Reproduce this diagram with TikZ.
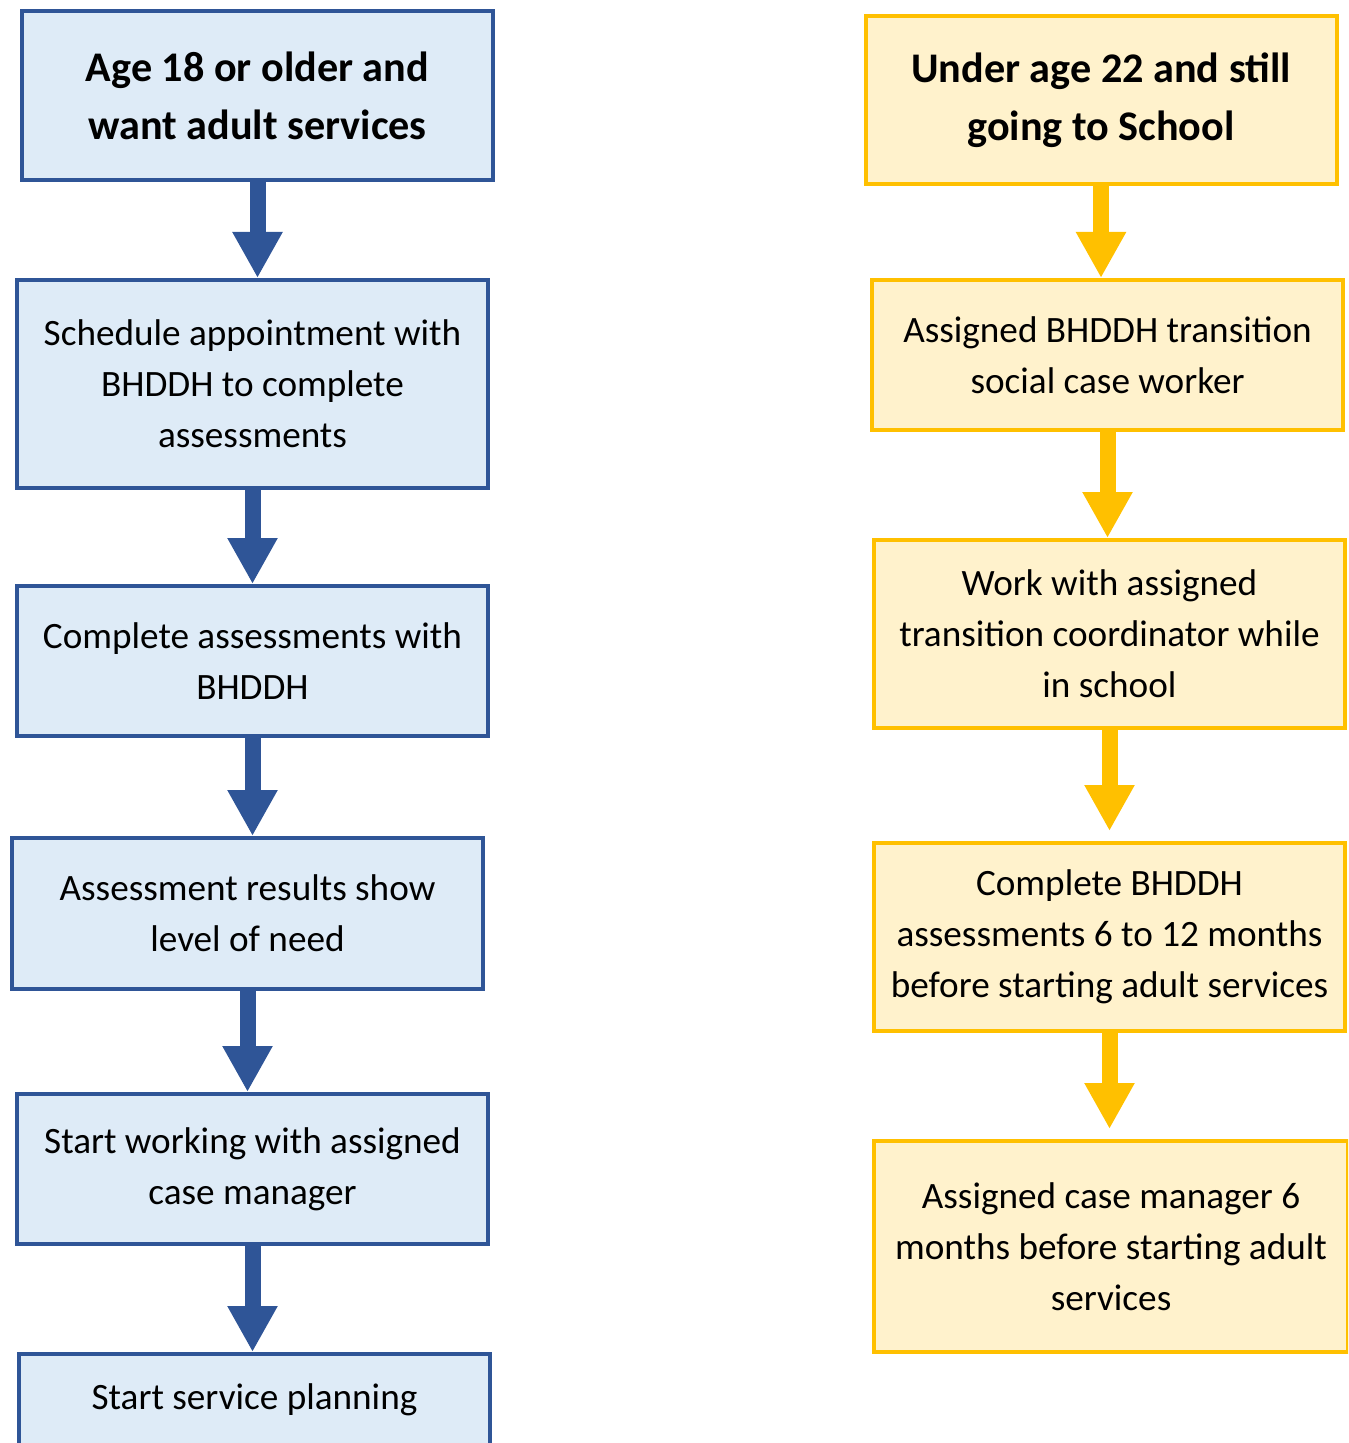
\documentclass[tikz,border=0pt]{standalone}
\usepackage{fontspec}
\setmainfont{Carlito}
\usepackage{tikz}
\usetikzlibrary{arrows.meta,positioning,calc}

\definecolor{adultline}{HTML}{2F5597}
\definecolor{adultfill}{HTML}{DEEBF7}
\definecolor{schoolline}{HTML}{FFC000}
\definecolor{schoolfill}{HTML}{FFF2CC}

\tikzset{
	stepbox/.style={rectangle, line width=2pt, align=center, inner sep=0pt,
		minimum width=235.5pt, font=\fontsize{18.6}{25.5}\selectfont},
	adultbox/.style={stepbox, draw=adultline, fill=adultfill},
	schoolbox/.style={stepbox, draw=schoolline, fill=schoolfill},
	headbox/.style={font=\fontsize{21.1}{29}\selectfont\bfseries},
	fatarrow/.style={line width=8pt, -{Triangle[width=23.5pt,length=23pt]}},
}

\begin{document}
\begin{tikzpicture}[x=0.5pt,y=-0.5pt]
	\useasboundingbox (0,0) rectangle (1348,1443);
	\clip (0,0) rectangle (1348,1443);
	% left column
	\node [adultbox,headbox,minimum height=84.5pt] (L1) at (257.5,95.5) {Age 18 or older and\\want adult services};
	\node [adultbox,minimum height=104pt] (L2) at (252.5,384) {Schedule appointment with\\BHDDH to complete\\assessments};
	\node [adultbox,minimum height=75pt] (L3) at (252.5,661) {Complete assessments with\\BHDDH};
	\node [adultbox,minimum height=75.5pt] (L4) at (247.5,913.5) {Assessment results show\\level of need};
	\node [adultbox,minimum height=75pt] (L5) at (252.5,1169) {Start working with assigned\\case manager};
	\node [adultbox,minimum height=46pt] (L6) at (254.5,1400) {Start service planning};
	% right column
	\node [schoolbox,headbox,minimum height=84pt] (R1) at (1101,100) {Under age 22 and still\\going to School};
	\node [schoolbox,minimum height=75pt] (R2) at (1107.5,355) {Assigned BHDDH transition\\social case worker};
	\node [schoolbox,minimum height=94pt] (R3) at (1109.5,634) {Work with assigned\\transition coordinator while\\in school};
	\node [schoolbox,minimum height=94pt] (R4) at (1109.5,937) {Complete BHDDH\\assessments 6 to 12 months\\before starting adult services};
	\node [schoolbox,minimum width=237pt,minimum height=105.5pt] (R5) at (1111,1246.5) {Assigned case manager 6\\months before starting adult\\services};
	% arrows
	\foreach \a/\b in {L1/L2,L2/L3,L3/L4,L4/L5,L5/L6}
		\draw [fatarrow,adultline] (\a.south) -- (\a.south |- \b.north);
	\foreach \a/\b in {R1/R2,R2/R3}
		\draw [fatarrow,schoolline] (\a.south) -- (\a.south |- \b.north);
	\foreach \a/\b in {R3/R4,R4/R5}
		\draw [fatarrow,schoolline,shorten >=5pt] (\a.south) -- (\a.south |- \b.north);
\end{tikzpicture}
\end{document}
